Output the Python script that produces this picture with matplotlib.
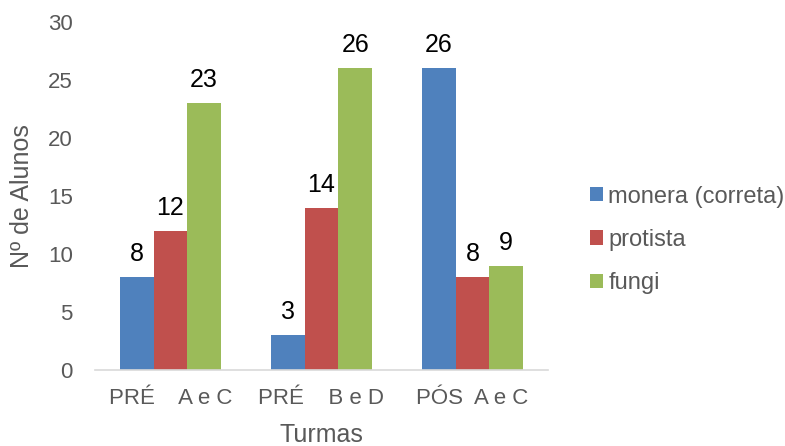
import matplotlib
matplotlib.use("Agg")
import matplotlib.pyplot as plt
import numpy as np

plt.rcParams['font.family'] = ['Liberation Sans', 'DejaVu Sans']

categories = ["PRÉ    A e C", "PRÉ    B e D", "PÓS  A e C"]
series_names = ["monera (correta)", "protista", "fungi"]
monera = [8, 3, 26]
protista = [12, 14, 8]
fungi = [23, 26, 9]
colors = ["#4F81BD", "#C0504D", "#9BBB59"]

fig = plt.figure(figsize=(7.85, 4.46), dpi=100)
ax = fig.add_axes([0.121, 0.170, 0.577, 0.781])

x = np.arange(len(categories))
width = 0.223
for i, (vals, name, c) in enumerate(zip([monera, protista, fungi], series_names, colors)):
    pos = x + (i - 1) * width
    ax.bar(pos, vals, width, color=c, label=name, zorder=2)
    for p, v in zip(pos, vals):
        ax.text(p, v + 0.95, str(v), ha="center", va="bottom", fontsize=18, color="black")

ax.set_xlim(-0.5, 2.5)
ax.set_ylim(0, 30)
ax.set_yticks(range(0, 31, 5))
ax.set_xticks(x)
ax.set_xticklabels(categories)
ax.tick_params(axis="both", length=0, labelsize=16, colors="#595959")
ax.tick_params(axis="y", pad=16)
ax.tick_params(axis="x", pad=13)
for s in ["top", "right", "left"]:
    ax.spines[s].set_visible(False)
ax.spines["bottom"].set_color("#D9D9D9")
ax.spines["bottom"].set_linewidth(1.2)

ax.set_ylabel("Nº de Alunos", fontsize=18, color="#595959", labelpad=10)
ax.set_xlabel("Turmas", fontsize=18, color="#595959", labelpad=10)

leg = ax.legend(loc="center left", bbox_to_anchor=(1.093, 0.374), frameon=False,
                fontsize=17, handlelength=0.55, handleheight=0.55,
                handletextpad=0.22, labelspacing=0.9, borderpad=0,
                borderaxespad=0, labelcolor="#595959")

fig.savefig("out.png", dpi=100)
